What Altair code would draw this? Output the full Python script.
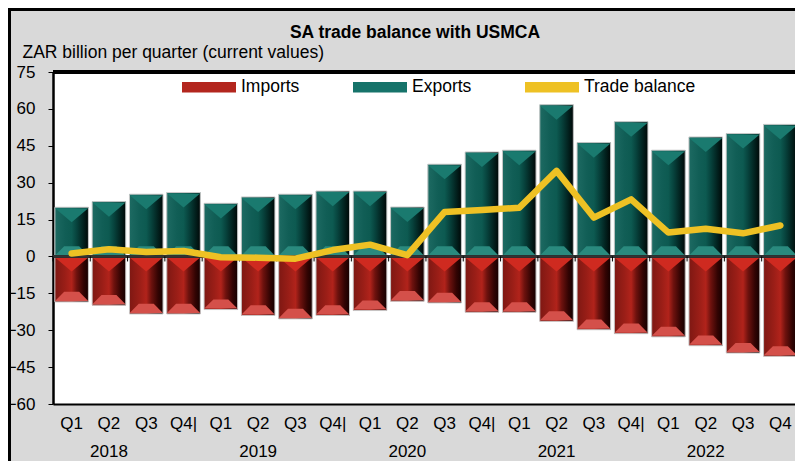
import altair as alt
import pandas as pd

# ---- data ----
quarters = ["2018Q1", "2018Q2", "2018Q3", "2018Q4",
            "2019Q1", "2019Q2", "2019Q3", "2019Q4",
            "2020Q1", "2020Q2", "2020Q3", "2020Q4",
            "2021Q1", "2021Q2", "2021Q3", "2021Q4",
            "2022Q1", "2022Q2", "2022Q3", "2022Q4"]
exports = [20.0, 22.3, 25.3, 26.0, 21.6, 24.2, 25.3, 26.6, 26.6, 20.1,
           37.5, 42.5, 43.2, 61.7, 46.3, 54.8, 43.2, 48.6, 50.0, 53.7]
imports = [-18.5, -19.8, -23.4, -23.4, -21.6, -24.0, -25.4, -24.0, -22.0, -18.2,
           -18.9, -22.7, -22.7, -26.4, -29.8, -31.4, -32.7, -36.3, -39.3, -40.6]
balance = [1.2, 2.9, 1.8, 2.2, -0.3, -0.5, -0.9, 2.6, 4.8, 0.5,
           18.1, 18.9, 19.8, 34.8, 15.8, 23.2, 9.7, 11.3, 9.4, 12.6]
year_labels = ["", "2018", "", "", "", "2019", "", "", "", "2020",
               "", "", "", "2021", "", "", "", "2022", "", ""]
series = ["Imports", "Exports", "Trade balance"]
series_colors = ["#b3261e", "#16736a", "#EEC124"]

df = pd.DataFrame({
    "Quarter": quarters,
    "Exports": exports,
    "Imports": imports,
    "Trade balance": balance,
    "Year": year_labels,
})

FONT = "Liberation Sans"
W, H = 742, 332

xscale = alt.Scale(paddingInner=0.1, paddingOuter=0.05, range=[0, 746])
xaxis = alt.Axis(
    labelExpr="substring(datum.value, 4) + ((substring(datum.value, 4) == 'Q4' && datum.value != '2022Q4') ? '|' : '')",
    labelAngle=0, domain=True, domainColor="black", domainWidth=2, ticks=False,
    labelFontSize=17, labelPadding=11,
    labelColor="black", labelFont=FONT, labelOverlap=False, title=None,
)
yscale = alt.Scale(domain=[-60, 75], nice=False, zero=False)
yaxis = alt.Axis(
    values=list(range(-60, 76, 15)), domain=True, domainColor="black", domainWidth=2.5,
    ticks=True, tickSize=5,
    tickColor="black", tickWidth=1, labelFontSize=17, labelPadding=13,
    labelColor="black", labelFont=FONT, grid=False,
    title="ZAR billion  per quarter (current values)", titleAngle=0,
    titleAlign="left", titleBaseline="middle", titleX=-31, titleY=-20,
    titleFontSize=17.5, titleFontWeight="normal", titleFont=FONT, titleColor="black",
)


def X(**kw):
    return alt.X("Quarter:N", sort=quarters, scale=xscale, axis=xaxis, **kw)


def Y(field):
    return alt.Y(f"{field}:Q", scale=yscale, axis=yaxis)


base = alt.Chart(df).transform_calculate(zero="0")

teal_grad = alt.LinearGradient(
    gradient="linear", x1=0, x2=1, y1=0, y2=0,
    stops=[alt.GradientStop(color="#1d6a62", offset=0),
           alt.GradientStop(color="#115e56", offset=0.3),
           alt.GradientStop(color="#0d5a51", offset=0.5),
           alt.GradientStop(color="#07433d", offset=0.65),
           alt.GradientStop(color="#02211e", offset=0.85),
           alt.GradientStop(color="#000807", offset=1)])
red_grad = alt.LinearGradient(
    gradient="linear", x1=0, x2=1, y1=0, y2=0,
    stops=[alt.GradientStop(color="#7e1813", offset=0),
           alt.GradientStop(color="#9a1e17", offset=0.3),
           alt.GradientStop(color="#b1231b", offset=0.5),
           alt.GradientStop(color="#6e120e", offset=0.65),
           alt.GradientStop(color="#330403", offset=0.85),
           alt.GradientStop(color="#150000", offset=1)])

# legend carrier: solid bars with colour encoding
legend_bars = base.transform_fold(["Imports", "Exports"], as_=["Series", "Value"]).mark_bar().encode(
    x=X(), y=Y("Value"),
    color=alt.Color("Series:N", scale=alt.Scale(domain=series, range=series_colors),
                    legend=alt.Legend(
                        orient="none", direction="horizontal", legendX=129, legendY=-12,
                        title=None, symbolType="M-1,-0.19H1V0.19H-1Z", symbolSize=2916,
                        symbolStrokeWidth=0, labelFontSize=17.5, labelFont=FONT,
                        labelColor="black", columnPadding=53, labelOffset=5)),
)

exp_bars = base.mark_bar(fill=teal_grad, stroke="#c9c9c9", strokeWidth=1).encode(x=X(), y=Y("Exports"))
imp_bars = base.mark_bar(fill=red_grad, stroke="#c9c9c9", strokeWidth=1).encode(x=X(), y=Y("Imports"))

tri = "M-1,0L1,0L0,0.85Z"
trap = "M-1,0L1,0L0.45,-0.55L-0.45,-0.55Z"
size = 33.2 ** 2

exp_top = base.mark_point(shape=tri, size=size, filled=True, opacity=1, color="#1a7a6f", strokeWidth=0, yOffset=1).encode(x=X(), y=Y("Exports"))
exp_bot = base.mark_point(shape=trap, size=size, filled=True, opacity=1, color="#2a8a7e", strokeWidth=0, yOffset=-1).encode(x=X(), y=Y("zero"))
imp_top = base.mark_point(shape=tri, size=size, filled=True, opacity=1, color="#cf2a20", strokeWidth=0, yOffset=1).encode(x=X(), y=Y("zero"))
imp_bot = base.mark_point(shape=trap, size=size, filled=True, opacity=1, color="#d4504a", strokeWidth=0, yOffset=-1).encode(x=X(), y=Y("Imports"))

zero_rule = base.mark_rule(color="#333333", strokeWidth=1.5).encode(
    x=alt.value(0), x2=alt.value(W), y=Y("zero"))
zero_ticks = base.mark_rule(color="black", strokeWidth=1, xOffset=-1.9, y2Offset=5).encode(
    x=X(bandPosition=0), y=Y("zero"), y2=alt.Y2("zero:Q"))

line = base.mark_line(color="#EEC124", strokeWidth=6.5, strokeCap="round", strokeJoin="round").encode(
    x=X(), y=Y("Trade balance"))

years = base.transform_filter("datum.Year != ''").mark_text(
    fontSize=17, font=FONT, color="black", baseline="middle", align="center", clip=False
).encode(x=X(), y=alt.value(H + 48), text="Year:N")

# plot top border and outer frame (decoration)
plot_top = base.mark_rule(color="black", strokeWidth=2.5).encode(
    x=alt.value(0), x2=alt.value(W), y=alt.value(0))
frame_top = base.mark_rule(color="black", strokeWidth=3).encode(
    x=alt.value(-45), x2=alt.value(W), y=alt.value(-62.5))
frame_left = base.mark_rule(color="black", strokeWidth=3).encode(
    x=alt.value(-43.5), y=alt.value(-64), y2=alt.value(H + 57))

chart = alt.layer(
    legend_bars, exp_bars, imp_bars, exp_top, exp_bot, imp_top, imp_bot,
    zero_rule, zero_ticks, line, years, plot_top, frame_top, frame_left,
).properties(
    width=W, height=H,
    autosize=alt.AutoSizeParams(type="none"),
    padding={"left": 45, "top": 64, "right": 0, "bottom": 57},
    title=alt.Title("SA trade balance with USMCA", font=FONT, fontSize=17.5, fontWeight="bold",
                    color="black", anchor="middle", dx=-9, offset=0, dy=44, baseline="middle"),
).configure(background="#d9d9d9").configure_view(
    fill="white", stroke=None
).configure_axis(grid=False)

chart.save("out.html", embed_options={"renderer": "svg", "actions": False})
